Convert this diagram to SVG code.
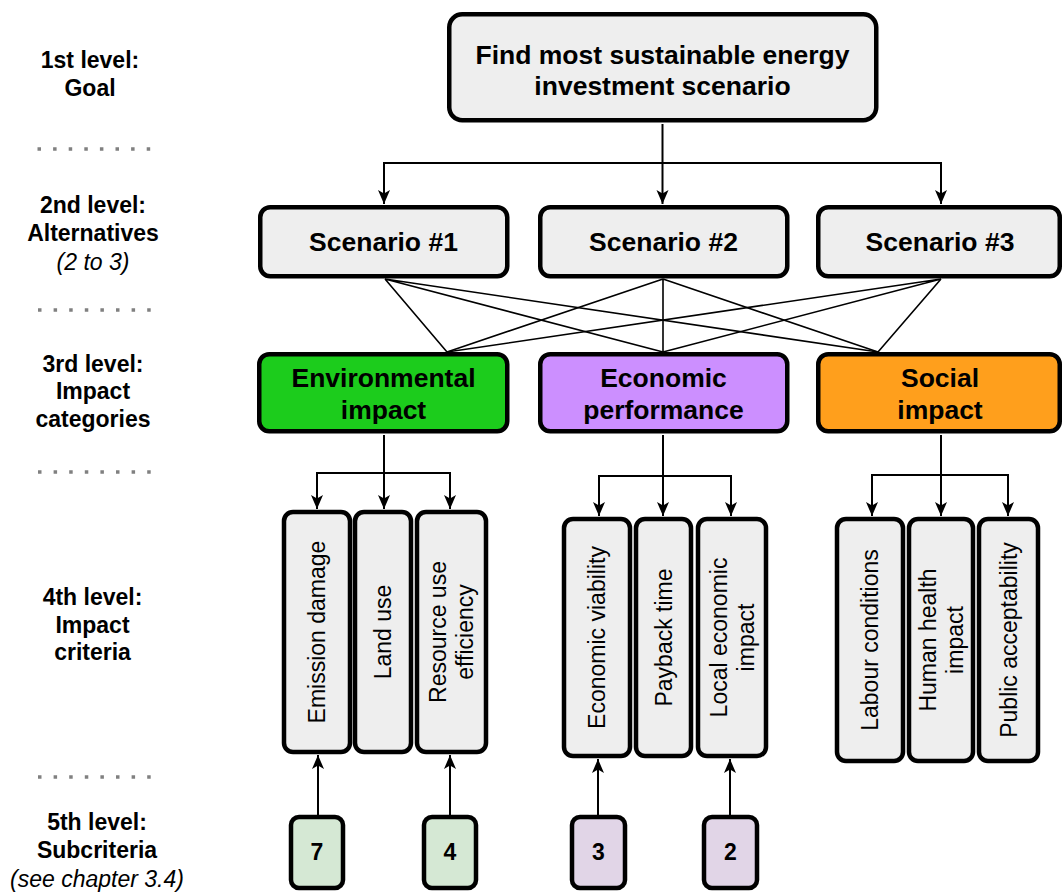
<svg xmlns="http://www.w3.org/2000/svg" width="1062" height="893" viewBox="0 0 1062 893">
<defs>
<marker id="arr" markerUnits="userSpaceOnUse" markerWidth="16" markerHeight="14" refX="14" refY="6" orient="auto">
<path d="M0,0 L14,6 L0,12 L3.5,6 Z" fill="#000"/>
</marker>
<style>
.lbl{font-family:"Liberation Sans",Arial,sans-serif;font-size:23px;font-weight:bold;fill:#000;text-anchor:middle}
.it{font-weight:normal;font-style:italic}
.dots{stroke:#808080;stroke-width:3.5;stroke-dasharray:3.5 12.1;fill:none}
.box{stroke:#000;stroke-width:4.5}
.grey{fill:#eeeeee}
.t26{font-family:"Liberation Sans",Arial,sans-serif;font-size:26.5px;font-weight:bold;fill:#000;text-anchor:middle}
.t22{font-family:"Liberation Sans",Arial,sans-serif;font-size:23px;fill:#000;text-anchor:middle}
.num{font-family:"Liberation Sans",Arial,sans-serif;font-size:23px;font-weight:bold;fill:#000;text-anchor:middle}
.ln{stroke:#000;stroke-width:1.6;fill:none}
.ar{stroke:#000;stroke-width:2;fill:none;marker-end:url(#arr)}
</style>
</defs>
<rect width="1062" height="893" fill="#fff"/>

<g id="levels">
<text class="lbl" x="90" y="68">1st level:</text>
<text class="lbl" x="90" y="96">Goal</text>
<text class="lbl" x="93" y="213">2nd level:</text>
<text class="lbl" x="93" y="241">Alternatives</text>
<text class="lbl it" x="93" y="270">(2 to 3)</text>
<text class="lbl" x="93" y="372">3rd level:</text>
<text class="lbl" x="93" y="399">Impact</text>
<text class="lbl" x="93" y="427">categories</text>
<text class="lbl" x="92.5" y="605">4th level:</text>
<text class="lbl" x="92.5" y="633">Impact</text>
<text class="lbl" x="92.5" y="660">criteria</text>
<text class="lbl" x="97" y="830">5th level:</text>
<text class="lbl" x="97" y="858">Subcriteria</text>
<text class="lbl it" x="97" y="887">(see chapter 3.4)</text>
<line class="dots" x1="37.5" y1="149" x2="152" y2="149"/>
<line class="dots" x1="38" y1="310" x2="152" y2="310"/>
<line class="dots" x1="38" y1="472" x2="152" y2="472"/>
<line class="dots" x1="38" y1="777" x2="152" y2="777"/>
</g>

<g id="connectors">
<path class="ar" d="M662.5,124 V204"/>
<path class="ar" d="M662.5,163 H384 V204"/>
<path class="ar" d="M662.5,163 H941 V204"/>
<path class="ln" d="M385,279 L447,352 M385,279 L663,352 M385,279 L878,352"/>
<path class="ln" d="M663,279 L447,352 M663,279 L663,352 M663,279 L878,352"/>
<path class="ln" d="M941,279 L447,352 M941,279 L663,352 M941,279 L878,352"/>
<path class="ar" d="M384,435 V509"/>
<path class="ar" d="M384,473 H317 V509"/>
<path class="ar" d="M384,473 H450 V509"/>
<path class="ar" d="M663,435 V516"/>
<path class="ar" d="M663,476 H599 V516"/>
<path class="ar" d="M663,476 H731 V516"/>
<path class="ar" d="M941,435 V516"/>
<path class="ar" d="M941,475 H872 V516"/>
<path class="ar" d="M941,475 H1008 V516"/>
<path class="ar" d="M318,815 V755"/>
<path class="ar" d="M450,815 V755"/>
<path class="ar" d="M598,815 V759"/>
<path class="ar" d="M730,815 V759"/>
</g>

<g id="goal">
<rect class="box grey" x="449.25" y="14.25" width="427" height="106" rx="13"/>
<text class="t26" x="662.5" y="64">Find most sustainable energy</text>
<text class="t26" x="662.5" y="95">investment scenario</text>
</g>

<g id="scenario1">
<rect class="box grey" x="260.25" y="207.25" width="247" height="69" rx="10"/>
<text class="t26" x="383.5" y="251">Scenario #1</text>
</g>
<g id="scenario2">
<rect class="box grey" x="540.25" y="207.25" width="247" height="69" rx="10"/>
<text class="t26" x="663.5" y="251">Scenario #2</text>
</g>
<g id="scenario3">
<rect class="box grey" x="818.25" y="207.25" width="241.5" height="69" rx="10"/>
<text class="t26" x="940" y="251">Scenario #3</text>
</g>

<g id="environmental">
<rect class="box" fill="#1ccc1c" x="259.25" y="354.25" width="248" height="77" rx="10"/>
<text class="t26" x="383.5" y="387">Environmental</text>
<text class="t26" x="383.5" y="419">impact</text>
</g>
<g id="economic">
<rect class="box" fill="#cc8fff" x="540.25" y="354.25" width="247" height="77" rx="10"/>
<text class="t26" x="663.5" y="387">Economic</text>
<text class="t26" x="663.5" y="419">performance</text>
</g>
<g id="social">
<rect class="box" fill="#ff9f1c" x="818.25" y="354.25" width="241.5" height="77" rx="10"/>
<text class="t26" x="940" y="387">Social</text>
<text class="t26" x="940" y="419">impact</text>
</g>

<g id="emission-damage">
<rect class="box grey" x="284" y="512" width="66" height="240" rx="9"/>
<text class="t22" transform="translate(317,632) rotate(-90)" y="8">Emission damage</text>
</g>
<g id="land-use">
<rect class="box grey" x="355" y="512" width="56" height="240" rx="9"/>
<text class="t22" transform="translate(383,632) rotate(-90)" y="8">Land use</text>
</g>
<g id="resource-use">
<rect class="box grey" x="417" y="512" width="69" height="240" rx="9"/>
<text class="t22" transform="translate(451.5,632) rotate(-90)"><tspan x="0" y="-5.5">Resource use</tspan><tspan x="0" y="21.5">efficiency</tspan></text>
</g>

<g id="economic-viability">
<rect class="box grey" x="564" y="519" width="66" height="237" rx="9"/>
<text class="t22" transform="translate(597,637.5) rotate(-90)" y="8">Economic viability</text>
</g>
<g id="payback-time">
<rect class="box grey" x="636" y="519" width="55" height="237" rx="9"/>
<text class="t22" transform="translate(663.5,637.5) rotate(-90)" y="8">Payback time</text>
</g>
<g id="local-economic">
<rect class="box grey" x="698" y="519" width="68" height="237" rx="9"/>
<text class="t22" transform="translate(732,637.5) rotate(-90)"><tspan x="0" y="-5.5">Local economic</tspan><tspan x="0" y="21.5">impact</tspan></text>
</g>

<g id="labour-conditions">
<rect class="box grey" x="837" y="519" width="66" height="242" rx="9"/>
<text class="t22" transform="translate(870,640) rotate(-90)" y="8">Labour conditions</text>
</g>
<g id="human-health">
<rect class="box grey" x="909" y="519" width="64" height="242" rx="9"/>
<text class="t22" transform="translate(941,640) rotate(-90)"><tspan x="0" y="-5.5">Human health</tspan><tspan x="0" y="21.5">impact</tspan></text>
</g>
<g id="public-acceptability">
<rect class="box grey" x="979" y="519" width="59" height="242" rx="9"/>
<text class="t22" transform="translate(1008.5,640) rotate(-90)" y="8">Public acceptability</text>
</g>

<g id="sub-emission">
<rect class="box" fill="#d5e8d4" x="291" y="817" width="52" height="71" rx="8"/>
<text class="num" x="317" y="860">7</text>
</g>
<g id="sub-resource">
<rect class="box" fill="#d5e8d4" x="424" y="817" width="52" height="71" rx="8"/>
<text class="num" x="450" y="860">4</text>
</g>
<g id="sub-viability">
<rect class="box" fill="#e1d5e7" x="572" y="817" width="53" height="71" rx="8"/>
<text class="num" x="598.5" y="860">3</text>
</g>
<g id="sub-local">
<rect class="box" fill="#e1d5e7" x="704" y="817" width="53" height="71" rx="8"/>
<text class="num" x="730.5" y="860">2</text>
</g>
</svg>
